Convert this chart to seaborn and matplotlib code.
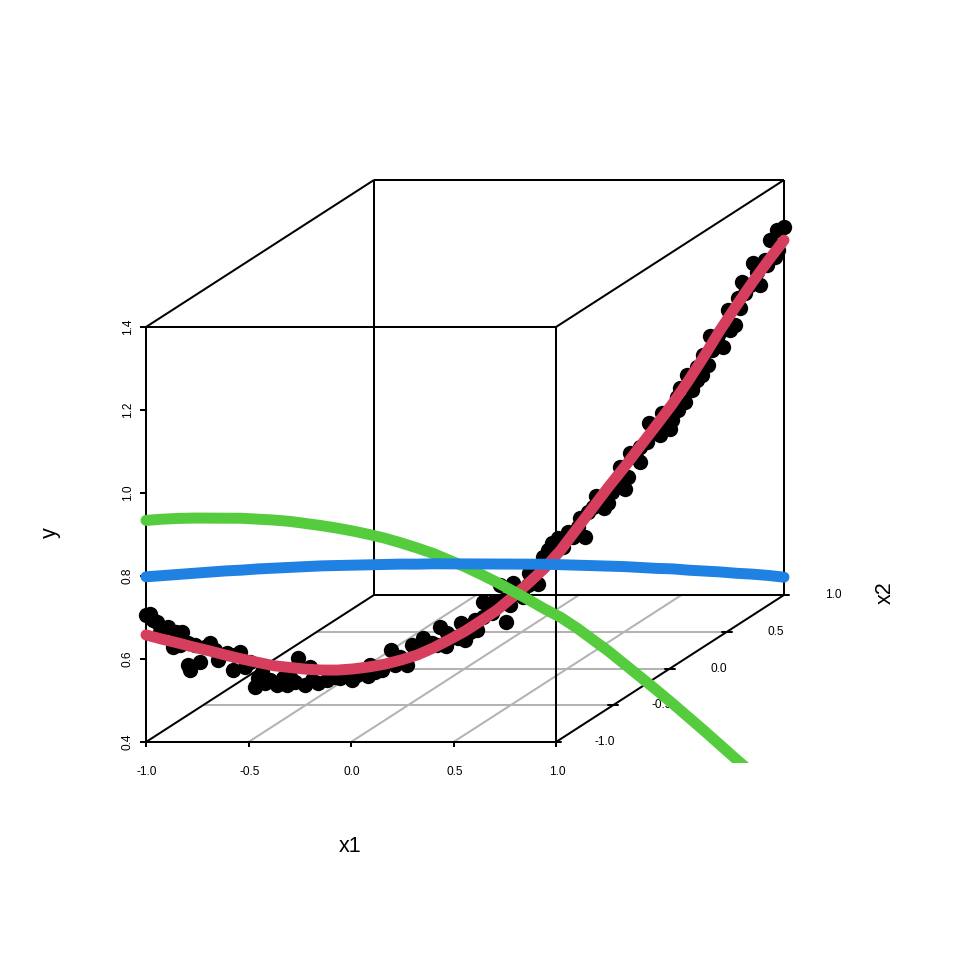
import numpy as np
import pandas as pd
import seaborn as sns
import matplotlib.pyplot as plt

sns.set_style("white")
plt.rcParams["font.family"] = ["Liberation Sans", "DejaVu Sans"]

# all curves and points run along the diagonal x1 = x2 = t
t_line = [-1.0, -0.95, -0.9, -0.85, -0.8, -0.75, -0.7, -0.65, -0.6, -0.55, -0.5,
          -0.45, -0.4, -0.35, -0.3, -0.25, -0.2, -0.15, -0.1, -0.05, 0.0,
          0.05, 0.1, 0.15, 0.2, 0.25, 0.3, 0.35, 0.4, 0.45, 0.5,
          0.55, 0.6, 0.65, 0.7, 0.75, 0.8, 0.85, 0.9, 0.95, 1.0]
y_red = [0.658, 0.639, 0.621, 0.602, 0.584, 0.565, 0.547, 0.530, 0.513, 0.500, 0.487,
         0.476, 0.467, 0.461, 0.457, 0.455, 0.456, 0.459, 0.467, 0.478, 0.490,
         0.506, 0.523, 0.546, 0.571, 0.598, 0.632, 0.674, 0.716, 0.758, 0.797,
         0.839, 0.880, 0.922, 0.969, 1.020, 1.074, 1.123, 1.170, 1.214, 1.255]
y_green = [0.934, 0.928, 0.921, 0.913, 0.904, 0.895, 0.886, 0.875, 0.864, 0.852, 0.838,
           0.824, 0.809, 0.793, 0.776, 0.758, 0.738, 0.717, 0.695, 0.670, 0.645,
           0.618, 0.590, 0.560, 0.530, 0.499, 0.470, 0.436, 0.399, 0.362, 0.322,
           0.282, 0.242, 0.201, 0.159, 0.117, 0.074, 0.031, -0.011, -0.054, -0.096]
y_blue = [0.798, 0.792, 0.786, 0.780, 0.774, 0.768, 0.761, 0.755, 0.748, 0.741, 0.734,
          0.727, 0.719, 0.711, 0.703, 0.695, 0.687, 0.678, 0.670, 0.661, 0.652,
          0.643, 0.634, 0.625, 0.616, 0.607, 0.597, 0.587, 0.577, 0.567, 0.557,
          0.546, 0.535, 0.525, 0.513, 0.502, 0.491, 0.479, 0.468, 0.456, 0.443]

t_pts = [-1.0, -0.987, -0.966, -0.947, -0.931, -0.887, -0.915, -0.868, -0.868, -0.862,
         -0.831, -0.799, -0.846, -0.815, -0.774, -0.746, -0.705, -0.727, -0.690, -0.658,
         -0.649, -0.589, -0.558, -0.524, -0.502, -0.486, -0.461, -0.433, -0.611, -0.549,
         -0.636, -0.408, -0.354, -0.370, -0.320, -0.298, -0.282, -0.260, -0.232, -0.219,
         -0.182, -0.204, -0.166, -0.132, -0.103, -0.078, -0.060, -0.038, -0.013, 0.0,
         0.038, 0.056, 0.056, 0.085, 0.088, 0.129, 0.141, 0.110, 0.150, 0.182,
         0.229, 0.201, 0.245, 0.273, 0.307, 0.323, 0.376, 0.361, 0.339, 0.401,
         0.411, 0.448, 0.423, 0.470, 0.502, 0.511, 0.486, 0.517, 0.549, 0.571,
         0.577, 0.611, 0.643, 0.618, 0.649, 0.690, 0.665, 0.712, 0.674, 0.712,
         0.696, 0.743, 0.727, 0.762, 0.746, 0.768, 0.809, 0.846, 0.862, 0.878,
         0.868, 0.925, 0.903, 0.940, 0.972, 0.956, 0.978, 1.0, 0.824,
         -0.978, -0.956, -0.906, -0.893, -0.784, -0.721, -0.674, -0.627, -0.571, -0.533,
         -0.480, -0.392, -0.339, -0.304, -0.194, -0.150, -0.125, -0.088, -0.056, -0.022,
         0.016, 0.031, 0.075, 0.119, 0.160, 0.197, 0.219, 0.260, 0.292, 0.354,
         0.386, 0.436, 0.461, 0.480, 0.536, 0.549, 0.596, 0.627, 0.668, 0.727,
         0.774, 0.793, 0.831, 0.824, 0.856, 0.893, 0.915, 0.947, 0.981]
y_pts = [0.706, 0.706, 0.683, 0.665, 0.665, 0.645, 0.614, 0.615, 0.562, 0.549,
         0.563, 0.603, 0.607, 0.596, 0.558, 0.569, 0.565, 0.525, 0.526, 0.472,
         0.492, 0.465, 0.459, 0.518, 0.449, 0.490, 0.447, 0.449, 0.480, 0.477,
         0.504, 0.452, 0.435, 0.455, 0.448, 0.461, 0.441, 0.442, 0.486, 0.447,
         0.441, 0.464, 0.486, 0.497, 0.480, 0.514, 0.465, 0.483, 0.512, 0.469,
         0.486, 0.514, 0.550, 0.519, 0.545, 0.489, 0.528, 0.582, 0.579, 0.540,
         0.563, 0.595, 0.625, 0.654, 0.638, 0.672, 0.650, 0.699, 0.657, 0.718,
         0.743, 0.720, 0.738, 0.759, 0.744, 0.771, 0.800, 0.828, 0.800, 0.845,
         0.889, 0.854, 0.863, 0.906, 0.884, 0.920, 0.937, 0.945, 0.957, 0.952,
         0.984, 0.976, 0.998, 0.996, 1.023, 1.065, 1.032, 1.078, 1.116, 1.149,
         1.178, 1.160, 1.217, 1.218, 1.220, 1.263, 1.283, 1.287, 1.082,
         0.690, 0.657, 0.648, 0.615, 0.583, 0.560, 0.535, 0.476, 0.478, 0.462,
         0.457, 0.447, 0.444, 0.436, 0.450, 0.471, 0.472, 0.472, 0.495, 0.477,
         0.485, 0.511, 0.540, 0.544, 0.561, 0.566, 0.599, 0.640, 0.663, 0.678,
         0.709, 0.710, 0.744, 0.774, 0.815, 0.837, 0.874, 0.888, 0.905, 0.966,
         1.030, 1.063, 1.068, 1.118, 1.141, 1.166, 1.193, 1.205, 1.235]

x1_ticks = [-1.0, -0.5, 0.0, 0.5, 1.0]
x2_ticks = [-1.0, -0.5, 0.0, 0.5, 1.0]
y_ticks = [0.4, 0.6, 0.8, 1.0, 1.2, 1.4]

# oblique projection of the box
DX = 114 / 205
DY = 73.5 / 415


def proj(x1, x2, y):
    x2 = np.asarray(x2, dtype=float)
    return np.asarray(x1, dtype=float) + DX * (x2 + 1), np.asarray(y, dtype=float) + DY * (x2 + 1)


def seg(ax, p, q, color="black", lw=1.45, zorder=2):
    a = proj(*p)
    b = proj(*q)
    ax.plot([a[0], b[0]], [a[1], b[1]], color=color, lw=lw, zorder=zorder,
            solid_capstyle="butt")


fig = plt.figure(figsize=(9.6, 9.6), dpi=100)
ax = fig.add_axes([59 / 960, 197 / 960, 782 / 960, 644 / 960])

# floor grid
for v in x1_ticks[1:-1]:
    seg(ax, (v, -1, 0.4), (v, 1, 0.4), color="#b3b3b3", lw=1.45, zorder=1)
for v in x2_ticks[1:-1]:
    seg(ax, (-1, v, 0.4), (1, v, 0.4), color="#b3b3b3", lw=1.45, zorder=1)

# box edges
for x2 in (-1, 1):
    seg(ax, (-1, x2, 0.4), (1, x2, 0.4))
    seg(ax, (-1, x2, 1.4), (1, x2, 1.4))
    seg(ax, (-1, x2, 0.4), (-1, x2, 1.4))
    seg(ax, (1, x2, 0.4), (1, x2, 1.4))
for x1 in (-1, 1):
    seg(ax, (x1, -1, 0.4), (x1, 1, 0.4))
    seg(ax, (x1, -1, 1.4), (x1, 1, 1.4))

# ticks and tick labels
for v in x1_ticks:
    seg(ax, (v, -1, 0.4), (v, -1, 0.4 - 5 / 415))
    ax.text(v + 1 / 205, 0.4 - 30 / 415, f"{v:.1f}", ha="center", va="center", fontsize=8.6,
            color="black", clip_on=False)
for v in y_ticks:
    seg(ax, (-1, -1, v), (-1 - 6 / 205, -1, v))
    ax.text(-1 - 18 / 205, v, f"{v:.1f}", rotation=90, ha="center", va="center",
            fontsize=8.6, color="black", clip_on=False)
for v in x2_ticks:
    u, w = proj(1, v, 0.4)
    ax.plot([u - 5 / 205, u + 5 / 205], [w, w], color="black", lw=1.45, zorder=2)
    ax.text(u + 49 / 205, w, f"{v:.1f}", ha="center", va="center", fontsize=8.6,
            color="black", clip_on=True, zorder=1.5)

# points and curves
px, py = proj(t_pts, t_pts, y_pts)
pts = pd.DataFrame({"u": px, "v": py})
sns.scatterplot(data=pts, x="u", y="v", color="black", s=122, linewidth=0, ax=ax, zorder=3)

curves = [(y_red, "#d63e5e"), (y_green, "#54cc3e"), (y_blue, "#1f82e2")]
for i, (vals, col) in enumerate(curves):
    lx, ly = proj(t_line, t_line, vals)
    df = pd.DataFrame({"u": lx, "v": ly})
    sns.lineplot(data=df, x="u", y="v", sort=False, estimator=None, color=col, lw=7.9,
                 solid_capstyle="round", ax=ax, zorder=4 + i)

ax.set_xlim(-1 - 87 / 205, -1 + 695 / 205)
ax.set_ylim(0.4 - 21 / 415, 0.4 + 623 / 415)
ax.axis("off")

fig.text(350 / 960, 1 - 847 / 960, "x1", ha="center", va="center", fontsize=15.5, color="black")
fig.text(50 / 960, 1 - 533 / 960, "y", rotation=90, ha="center", va="center", fontsize=15.5, color="black")
fig.text(885 / 960, 1 - 593 / 960, "x2", rotation=90, ha="center", va="center", fontsize=15.5, color="black")

fig.savefig("out.png", dpi=100, facecolor="white")
